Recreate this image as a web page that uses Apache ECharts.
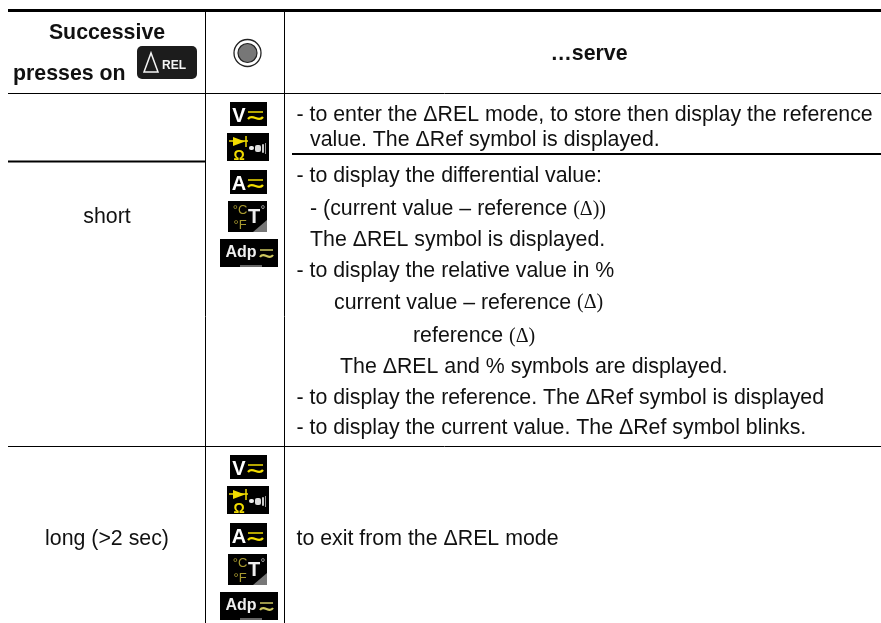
<!DOCTYPE html>
<html><head><meta charset="utf-8">
<style>html,body{margin:0;padding:0;background:#fff}#c{width:881px;height:623px}</style>
<script src="https://cdn.jsdelivr.net/npm/echarts@6/dist/echarts.min.js"></script>
</head><body><div id="c"></div>
<script>
const headerLeft = ['Successive', 'presses on'];
const headerRight = '…serve';
const pressTypes = ['short', 'long (>2 sec)'];
const serveLines = [
  '- to enter the ΔREL mode, to store then display the reference',
  'value. The ΔRef symbol is displayed.',
  '- to display the differential value:',
  '- (current value – reference {s|(Δ))}',
  'The ΔREL symbol is displayed.',
  '- to display the relative value in %',
  'current value – reference {s|(Δ)}',
  'reference {s|(Δ)}',
  'The ΔREL and % symbols are displayed.',
  '- to display the reference. The ΔRef symbol is displayed',
  '- to display the current value. The ΔRef symbol blinks.'
];
const exitLine = 'to exit from the ΔREL mode';
const FONT = '"Liberation Sans", Arial, sans-serif';
const FS = 21.33;
const g = [];
function line(x1,y1,x2,y2,w,c){g.push({type:'line',shape:{x1,y1,x2,y2},style:{stroke:c||'#000',lineWidth:w}});}
function txt(s,x,y,o){o=o||{};g.push({type:'text',x,y,style:{text:s,fill:'#111',font:(o.bold?'bold ':'')+FS+'px '+FONT,
  textAlign:o.align||'left',textVerticalAlign:'middle',
  rich:{s:{font:'20px "Liberation Serif", serif',fill:'#111'}}}});}
function rect(x,y,w,h,fill,r){g.push({type:'rect',shape:{x,y,width:w,height:h,r:r||0},style:{fill}});}
function small(s,x,y,size,fill,bold){g.push({type:'text',x,y,style:{text:s,fill,font:(bold?'bold ':'')+size+'px '+FONT,textAlign:'center',textVerticalAlign:'middle'}});}
const Y='#f2dc00';
function wave(x,y,w,c){
  line(x,y,x+w,y,1.5,c);
  g.push({type:'bezierCurve',shape:{x1:x,y1:y+7,cpx1:x+w*0.3,cpy1:y+1,cpx2:x+w*0.7,cpy2:y+11,x2:x+w,y2:y+5},style:{stroke:c,lineWidth:2.2,fill:null}});
}
function iconV(y,l){rect(230,y,37,24,'#000');small(l,239,y+14,20,'#fff',true);wave(248,y+10,15,Y);}
function iconDiode(y){
  rect(227,y,42,28,'#000');
  g.push({type:'polygon',shape:{points:[[233,y+4],[233,y+13],[245,y+8.5]]},style:{fill:Y}});
  line(229,y+8,248,y+8,1.5,Y);
  line(246,y+3,246,y+14,1.5,Y);
  small('Ω',239,y+23,14,Y,true);
  rect(249,y+13,5,4,'#eee',2);rect(255,y+12,6,7,'#ddd',2);rect(262,y+11,2,9,'#ccc',1);rect(265,y+10,1,11,'#999');
}
function iconT(y){
  rect(228,y,39,31,'#000');
  g.push({type:'polygon',shape:{points:[[267,y+19],[267,y+31],[253,y+31]]},style:{fill:'#777'}});
  small('°C',240,y+9,13,'#a89a30');small('°F',240,y+24,13,'#a89a30');
  small('T',254,y+16,20,'#eee',true);small('°',263,y+9,11,'#ccc');
}
function iconAdp(y){
  rect(220,y,58,28,'#000');
  g.push({type:'text',x:241,y:y+14,style:{text:'Adp',fill:'#eee',font:'bold 16px '+FONT,textAlign:'center',textVerticalAlign:'middle'}});
  wave(260,y+11,13,'#cfc860');
  rect(240,y+26,22,2,'#666');
}
function iconSet(y0){iconV(y0,'V');iconDiode(y0+31);iconV(y0+68,'A');iconT(y0+99);iconAdp(y0+137);}

// rules
line(8,10.5,881,10.5,3);
line(8,93.5,881,93.5,1);
line(205.5,10,205.5,623,1);
line(284.5,10,284.5,623,1);
line(8,161.5,205,161.5,2);
line(292,154,881,154,2);
line(8,446.5,881,446.5,1);

// header
txt(headerLeft[0],107,33,{bold:1,align:'center'});
txt(headerLeft[1],13,74.6,{bold:1});
rect(137,46,60,33,'#1c1c1c',5);
g.push({type:'polygon',shape:{points:[[144,72],[151,53],[158,72]]},style:{fill:null,stroke:'#f4f4f4',lineWidth:1.5}});
small('REL',174,66,12,'#f4f4f4',true);
g.push({type:'circle',shape:{cx:247.5,cy:53,r:13.5},style:{fill:'#fff',stroke:'#222',lineWidth:1.3}});
g.push({type:'circle',shape:{cx:247.5,cy:53,r:9.5},style:{fill:'#777',stroke:'#222',lineWidth:1.2}});
txt(headerRight,589,53.9,{bold:1,align:'center'});

// left column
txt(pressTypes[0],107,217.6,{align:'center'});
txt(pressTypes[1],107,539.6,{align:'center'});

// icons
iconSet(102);
iconSet(455);

// right column
const xs=[296.5,310,296.5,310,310,296.5,334,413,340,296.5,296.5];
const ys=[115.6,140.6,176.3,209.6,240.6,271.3,302.9,336.3,367.3,398.6,428.6];
serveLines.forEach((s,i)=>txt(s,xs[i],ys[i]));
txt(exitLine,296.5,539.6);

const chart=echarts.init(document.getElementById('c'),null,{renderer:'canvas'});
chart.setOption({backgroundColor:'#fff',animation:false,graphic:{elements:g}});
</script></body></html>
